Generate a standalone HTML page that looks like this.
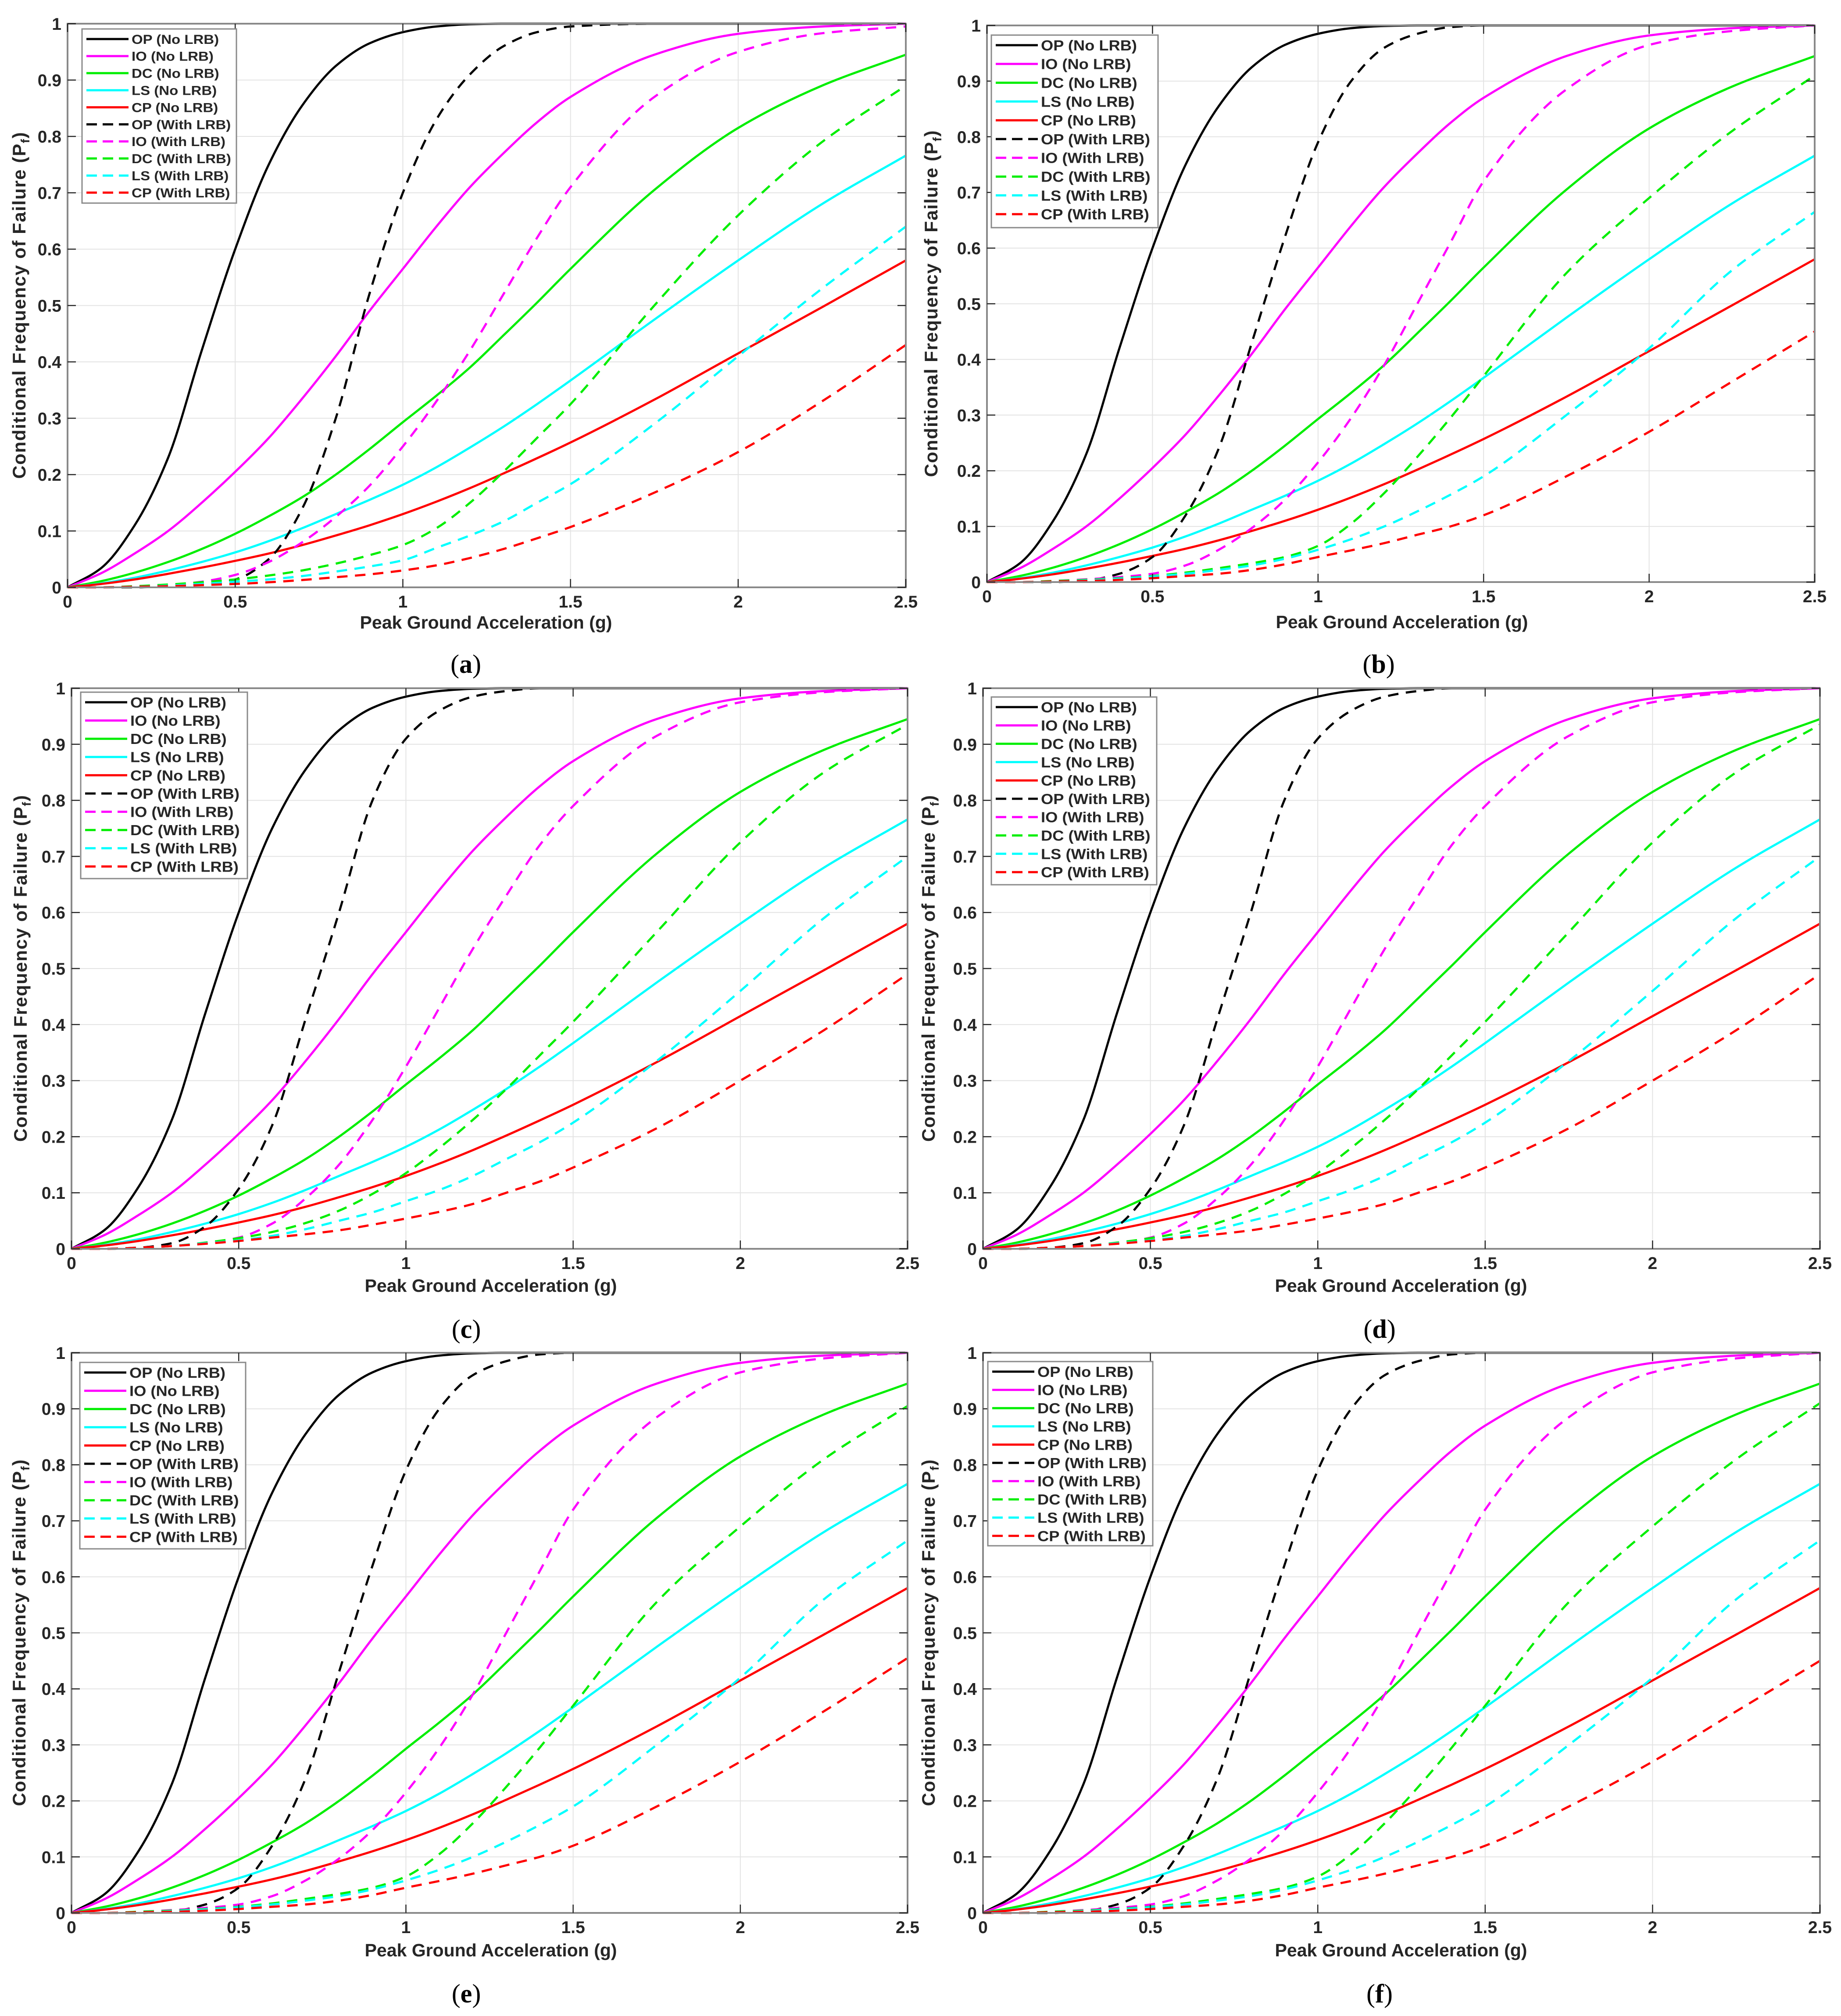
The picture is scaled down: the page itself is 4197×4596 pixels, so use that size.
<!DOCTYPE html>
<html>
<head>
<meta charset="utf-8">
<title>Fragility curves (a)-(f)</title>
<style>
  html, body { margin: 0; padding: 0; background: #ffffff; }
  svg { display: block; }
  text { font-family: "Liberation Sans", Arial, sans-serif; }
</style>
</head>
<body>
<svg id="fig" xmlns="http://www.w3.org/2000/svg" width="4197" height="4596" viewBox="0 0 4197 4596">
  <rect x="0" y="0" width="4197" height="4596" fill="#ffffff"/>
</svg>
<script>
// ---------- DATA ----------
const xGrid = [0,0.1,0.2,0.3,0.4,0.5,0.6,0.7,0.8,0.9,1.0,1.1,1.2,1.3,1.4,1.5,1.75,2.0,2.25,2.5];
const xTickValues = [0,0.5,1,1.5,2,2.5];
const xTickLabels = ["0","0.5","1","1.5","2","2.5"];
const yTickValues = [0,0.1,0.2,0.3,0.4,0.5,0.6,0.7,0.8,0.9,1];
const yTickLabels = ["0","0.1","0.2","0.3","0.4","0.5","0.6","0.7","0.8","0.9","1"];
const seriesNames = ["OP (No LRB)","IO (No LRB)","DC (No LRB)","LS (No LRB)","CP (No LRB)","OP (With LRB)","IO (With LRB)","DC (With LRB)","LS (With LRB)","CP (With LRB)"];

// No LRB (same in all panels)
const noOP = [0,.034,.11,.23,.42,.6,.75,.855,.925,.965,.985,.995,.999,1,1,1,1,1,1,1];
const noIO = [0,.025,.06,.1,.15,.205,.265,.335,.41,.49,.565,.64,.71,.77,.825,.87,.945,.982,.995,1];
const noDC = [0,.011,.026,.045,.068,.095,.126,.16,.2,.245,.293,.34,.39,.447,.505,.565,.705,.815,.89,.945];
const noLS = [0,.007,.017,.03,.045,.062,.082,.105,.13,.155,.182,.213,.248,.285,.325,.367,.475,.58,.68,.766];
const noCP = [0,.006,.014,.024,.035,.047,.06,.075,.092,.11,.13,.152,.176,.202,.229,.257,.333,.415,.497,.58];

// Panel (a) with LRB
const aOP = [0,0,0,.002,.005,.014,.05,.14,.3,.52,.7,.83,.91,.96,.985,.995,1,1,1,1];
const aIO = [0,0,.001,.004,.01,.022,.045,.08,.125,.18,.25,.33,.42,.52,.62,.71,.87,.95,.983,.995];
const aDC = [0,0,.002,.005,.009,.014,.021,.03,.042,.057,.075,.105,.15,.205,.265,.325,.5,.66,.79,.89];
const aLS = [0,0,.001,.003,.006,.01,.014,.02,.028,.037,.048,.07,.092,.117,.15,.183,.29,.41,.53,.64];
const aCP = [0,0,.001,.002,.004,.006,.009,.013,.018,.023,.03,.039,.052,.068,.087,.107,.168,.24,.33,.43];

// Panel (b) with LRB
const bOP = [0,0,0,.003,.015,.045,.12,.24,.43,.62,.79,.9,.96,.985,.997,1,1,1,1,1];
const bIO = [0,0,.002,.005,.009,.015,.03,.058,.097,.148,.215,.295,.39,.5,.61,.72,.885,.965,.99,1];
const bDC = [0,0,.002,.004,.007,.011,.017,.025,.034,.045,.065,.105,.16,.225,.295,.37,.555,.69,.81,.91];
const bLS = [0,0,.001,.003,.006,.01,.015,.022,.03,.042,.058,.077,.1,.127,.157,.19,.3,.42,.56,.665];
const bCP = [0,0,.001,.002,.004,.007,.011,.015,.022,.032,.045,.057,.07,.085,.1,.12,.19,.27,.36,.45];

// Panel (c) with LRB
const cOP = [0,0,.002,.01,.04,.107,.22,.41,.6,.8,.91,.96,.985,.995,1,1,1,1,1,1];
const cIO = [0,0,.002,.005,.01,.02,.045,.09,.15,.23,.325,.43,.535,.63,.72,.79,.915,.975,.993,1];
const cDC = [0,0,.002,.005,.011,.019,.03,.046,.068,.098,.135,.18,.23,.285,.345,.405,.565,.725,.85,.935];
const cLS = [0,0,.002,.005,.01,.015,.023,.035,.05,.065,.085,.105,.13,.16,.19,.225,.335,.46,.59,.7];
const cCP = [0,0,.002,.005,.009,.014,.02,.026,.033,.043,.054,.066,.08,.1,.12,.145,.215,.3,.39,.49];

// Panel (d) with LRB
const dOP = [0,0,.002,.01,.04,.107,.22,.41,.6,.8,.91,.96,.985,.995,1,1,1,1,1,1];
const dIO = [0,0,.002,.005,.01,.02,.045,.09,.15,.23,.325,.43,.535,.63,.72,.79,.915,.975,.993,1];
const dDC = [0,0,.002,.005,.011,.019,.03,.046,.068,.098,.135,.18,.23,.285,.345,.405,.565,.725,.85,.935];
const dLS = [0,0,.002,.005,.01,.015,.023,.035,.05,.065,.085,.105,.13,.16,.19,.225,.335,.46,.59,.7];
const dCP = [0,0,.002,.005,.009,.014,.02,.026,.033,.043,.054,.066,.08,.1,.12,.145,.215,.3,.39,.49];

// Panel (e) with LRB
const eOP = [0,0,0,.003,.015,.045,.12,.24,.43,.62,.79,.9,.96,.985,.997,1,1,1,1,1];
const eIO = [0,0,.002,.005,.009,.015,.03,.058,.097,.148,.215,.295,.39,.5,.61,.72,.885,.965,.99,1];
const eDC = [0,0,.002,.004,.007,.011,.017,.025,.034,.045,.065,.105,.16,.225,.295,.37,.555,.69,.81,.905];
const eLS = [0,0,.001,.003,.006,.01,.015,.022,.03,.042,.058,.077,.1,.127,.157,.19,.3,.42,.56,.665];
const eCP = [0,0,.001,.002,.004,.007,.011,.015,.022,.032,.045,.057,.07,.085,.1,.12,.19,.27,.36,.455];

// Panel (f) with LRB
const fOP = [0,0,0,.003,.015,.045,.12,.24,.43,.62,.79,.9,.96,.985,.997,1,1,1,1,1];
const fIO = [0,0,.002,.005,.009,.015,.03,.058,.097,.148,.215,.295,.39,.5,.61,.72,.885,.965,.99,1];
const fDC = [0,0,.002,.004,.007,.011,.017,.025,.034,.045,.065,.105,.16,.225,.295,.37,.555,.69,.81,.91];
const fLS = [0,0,.001,.003,.006,.01,.015,.022,.03,.042,.058,.077,.1,.127,.157,.19,.3,.42,.56,.665];
const fCP = [0,0,.001,.002,.004,.007,.011,.015,.022,.032,.045,.057,.07,.085,.1,.12,.19,.27,.36,.45];

// ---------- STYLE / LAYOUT ----------
const colors = ["#000000","#ff00ff","#00ee00","#00ffff","#ff0000","#000000","#ff00ff","#00ee00","#00ffff","#ff0000"];
const panels = [
  {id:"a", L:154,  R:2065, T:54,   B:1339, lg:[187,66,352,397,38.9,30],   ylx:58,   xlx:1108, xly:1433, tx:1062, ty:1534, series:[noOP,noIO,noDC,noLS,noCP,aOP,aIO,aDC,aLS,aCP]},
  {id:"b", L:2250, R:4137, T:58,   B:1327, lg:[2260,80,380,439,42.8,33],  ylx:2137, xlx:3196, xly:1432, tx:3143, ty:1534, series:[noOP,noIO,noDC,noLS,noCP,bOP,bIO,bDC,bLS,bCP]},
  {id:"c", L:163,  R:2069, T:1569, B:2847, lg:[184,1578,380,425,41.6,33], ylx:61,   xlx:1119, xly:2945, tx:1063, ty:3050, series:[noOP,noIO,noDC,noLS,noCP,cOP,cIO,cDC,cLS,cCP]},
  {id:"d", L:2241, R:4149, T:1569, B:2847, lg:[2260,1589,377,428,41.8,33],ylx:2131, xlx:3194, xly:2945, tx:3145, ty:3050, series:[noOP,noIO,noDC,noLS,noCP,dOP,dIO,dDC,dLS,dCP]},
  {id:"e", L:163,  R:2069, T:3084, B:4361, lg:[182,3106,378,425,41.6,33], ylx:58,   xlx:1119, xly:4460, tx:1063, ty:4565, series:[noOP,noIO,noDC,noLS,noCP,eOP,eIO,eDC,eLS,eCP]},
  {id:"f", L:2241, R:4149, T:3084, B:4361, lg:[2252,3104,376,420,41.6,33],ylx:2131, xlx:3194, xly:4460, tx:3145, ty:4565, series:[noOP,noIO,noDC,noLS,noCP,fOP,fIO,fDC,fLS,fCP]}
];

const NS = "http://www.w3.org/2000/svg";
const svg = document.getElementById("fig");
function mk(tag, attrs, parent) {
  const e = document.createElementNS(NS, tag);
  for (const k in attrs) e.setAttribute(k, attrs[k]);
  (parent || svg).appendChild(e);
  return e;
}

// monotone cubic (Fritsch-Carlson) path through pixel points
function monoPath(px, py) {
  const n = px.length;
  const d = [], m = new Array(n);
  for (let i = 0; i < n - 1; i++) d.push((py[i+1]-py[i])/(px[i+1]-px[i]));
  m[0] = d[0]; m[n-1] = d[n-2];
  for (let i = 1; i < n - 1; i++) {
    if (d[i-1] * d[i] <= 0) m[i] = 0;
    else {
      const h0 = px[i]-px[i-1], h1 = px[i+1]-px[i];
      const w1 = 2*h1 + h0, w2 = h1 + 2*h0;
      m[i] = (w1 + w2) / (w1/d[i-1] + w2/d[i]);
    }
  }
  let s = "M" + px[0].toFixed(1) + "," + py[0].toFixed(1);
  for (let i = 0; i < n - 1; i++) {
    const h = px[i+1]-px[i];
    s += " C" + (px[i]+h/3).toFixed(1) + "," + (py[i]+m[i]*h/3).toFixed(1) + " " +
         (px[i+1]-h/3).toFixed(1) + "," + (py[i+1]-m[i+1]*h/3).toFixed(1) + " " +
         px[i+1].toFixed(1) + "," + py[i+1].toFixed(1);
  }
  return s;
}

panels.forEach(p => {
  const g = mk("g", {});
  
  
  const xs = v => p.L + (v / 2.5) * (p.R - p.L);
  const ys = v => p.B - v * (p.B - p.T);

  const bg = mk("rect", {x:p.L, y:p.T, width:p.R-p.L, height:p.B-p.T, fill:"#ffffff"}, g);
  
  

  const grid = mk("g", {stroke:"#e3e3e3", "stroke-width":2}, g);
  
  
  xTickValues.forEach(v => mk("line", {x1:xs(v), x2:xs(v), y1:p.T, y2:p.B}, grid));
  yTickValues.forEach(v => mk("line", {x1:p.L, x2:p.R, y1:ys(v), y2:ys(v)}, grid));

  const sg = mk("g", {fill:"none", "stroke-linejoin":"round"}, g);
  
  
  p.series.forEach((arr, i) => {
    const px = xGrid.map(xs);
    const py = arr.map(v => ys(Math.max(0, Math.min(1, v))));
    const path = mk("path", {d:monoPath(px, py), stroke:colors[i], "stroke-width":5}, sg);
    if (i >= 5) path.setAttribute("stroke-dasharray", "24 17");
    
    
  });

  const box = mk("rect", {x:p.L, y:p.T, width:p.R-p.L, height:p.B-p.T, fill:"none", stroke:"#8a8a8a", "stroke-width":4}, g);
  
  

  const tk = mk("g", {stroke:"#262626", "stroke-width":2.5}, g);
  
  
  xTickValues.forEach(v => {
    mk("line", {x1:xs(v), x2:xs(v), y1:p.B, y2:p.B-19}, tk);
    mk("line", {x1:xs(v), x2:xs(v), y1:p.T, y2:p.T+19}, tk);
  });
  yTickValues.forEach(v => {
    mk("line", {x1:p.L, x2:p.L+19, y1:ys(v), y2:ys(v)}, tk);
    mk("line", {x1:p.R, x2:p.R-19, y1:ys(v), y2:ys(v)}, tk);
  });

  const xl = mk("g", {"font-size":39, "font-weight":"bold", fill:"#262626", "text-anchor":"middle"}, g);
  
  
  xTickValues.forEach((v, i) => {
    const t = mk("text", {x:xs(v), y:p.B + 46}, xl);
    t.textContent = xTickLabels[i];
  });
  const yl = mk("g", {"font-size":39, "font-weight":"bold", fill:"#262626", "text-anchor":"end"}, g);
  
  
  yTickValues.forEach((v, i) => {
    const t = mk("text", {x:p.L - 14, y:ys(v) + 14}, yl);
    t.textContent = yTickLabels[i];
  });

  const xt = mk("text", {x:p.xlx, y:p.xly, "font-size":41, "font-weight":"bold", fill:"#262626", "text-anchor":"middle"}, g);
  xt.textContent = "Peak Ground Acceleration (g)";
  
  

  const cy = (p.T + p.B) / 2;
  const yt = mk("text", {x:0, y:0, "font-size":42, "font-weight":"bold", fill:"#262626", "text-anchor":"middle",
    transform:"translate(" + p.ylx + "," + cy + ") rotate(-90)", textLength:790, lengthAdjust:"spacing"}, g);
  
  
  const t1 = mk("tspan", {}, yt); t1.textContent = "Conditional  Frequency  of  Failure  (P";
  const t2 = mk("tspan", {"font-size":28, dy:9}, yt); t2.textContent = "f";
  const t3 = mk("tspan", {dy:-9}, yt); t3.textContent = ")";

  const [lx, ly, lw, lh, sp, fs] = p.lg;
  const lg = mk("g", {}, g);
  
  
  mk("rect", {x:lx, y:ly, width:lw, height:lh, fill:"#ffffff", stroke:"#8a8a8a", "stroke-width":3}, lg);
  seriesNames.forEach((name, i) => {
    const rowY = ly + 23 + i * sp;
    const ent = mk("g", {}, lg);
    
    
    const ln = mk("line", {x1:lx+10, x2:lx+106, y1:rowY, y2:rowY, stroke:colors[i], "stroke-width":5}, ent);
    if (i >= 5) ln.setAttribute("stroke-dasharray", "24 13");
    const tx = mk("text", {x:0, y:0, "font-size":fs, "font-weight":"bold", fill:"#262626",
      transform:"translate(" + (lx+113) + "," + (rowY + fs*0.36) + ") scale(1.1,1)"}, ent);
    tx.textContent = name;
  });

  const pl = mk("text", {x:p.tx, y:p.ty, "font-size":60, fill:"#000000", "text-anchor":"middle",
    style:"font-family:'Liberation Serif', serif"}, g);
  
  
  const o1 = mk("tspan", {}, pl); o1.textContent = "(";
  const o2 = mk("tspan", {"font-weight":"bold"}, pl); o2.textContent = p.id;
  const o3 = mk("tspan", {}, pl); o3.textContent = ")";
});
</script>
</body>
</html>
